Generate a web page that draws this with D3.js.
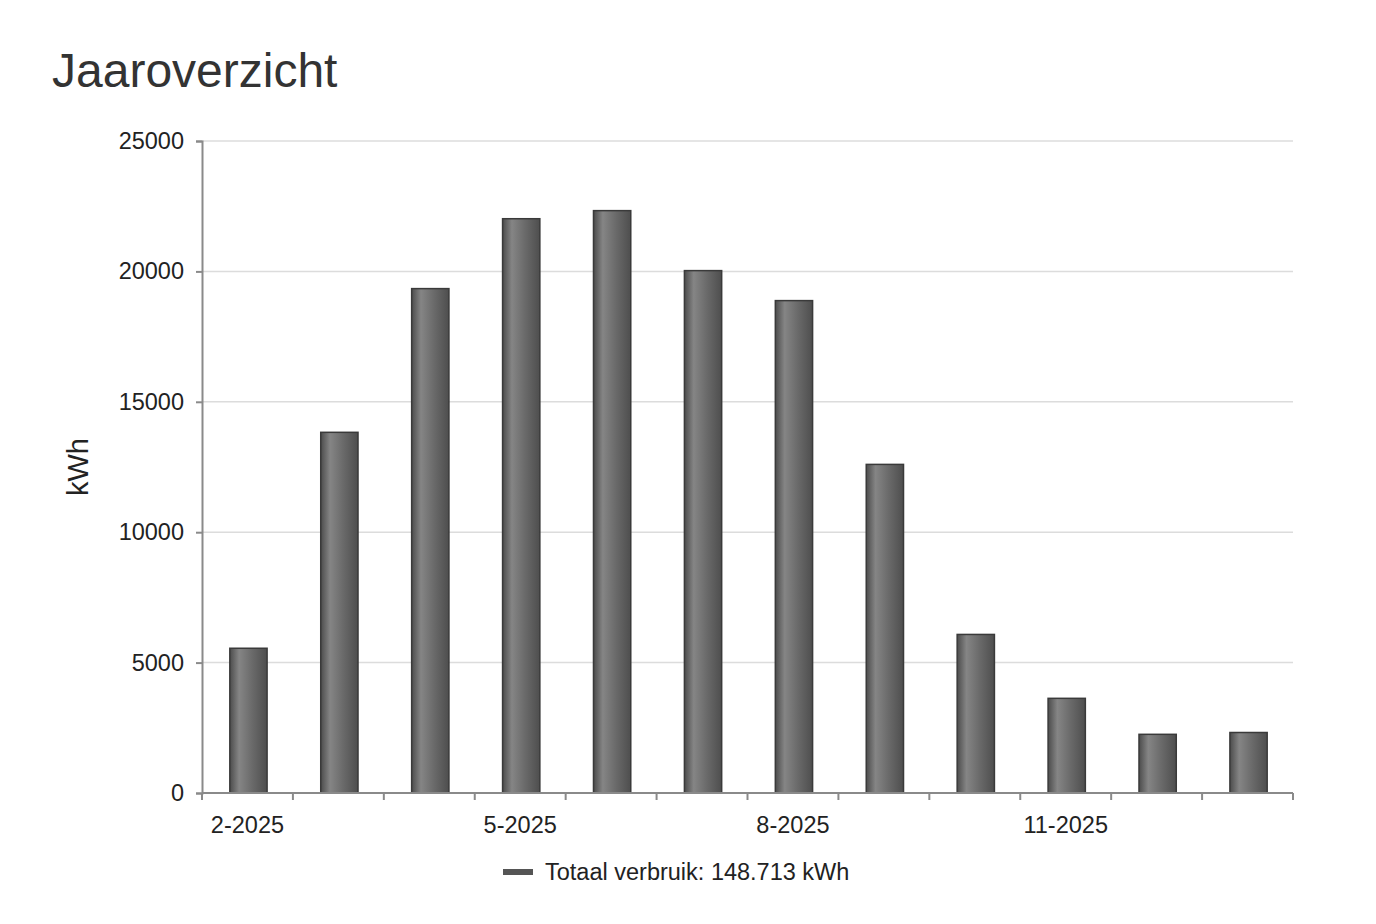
<!DOCTYPE html>
<html>
<head>
<meta charset="utf-8">
<script src="https://cdn.jsdelivr.net/npm/d3@7"></script>
<style>
  html, body { margin: 0; padding: 0; background: #fff; }
  body { font-family: "Liberation Sans", Arial, Helvetica, sans-serif; }
  svg text { fill: #222; }
</style>
</head>
<body>
<div id="chart"></div>
<script>
// ── data ────────────────────────────────────────────────
const months = ['2-2025', '3-2025', '4-2025', '5-2025', '6-2025', '7-2025',
                '8-2025', '9-2025', '10-2025', '11-2025', '12-2025', '1-2026'];
const usage  = [5550, 13830, 19340, 22020, 22330, 20030,
                18880, 12600, 6080, 3630, 2250, 2320];
const labelled = ['2-2025', '5-2025', '8-2025', '11-2025'];
const yTicks = [0, 5000, 10000, 15000, 20000, 25000];
const title = 'Jaaroverzicht';
const yTitle = 'kWh';
const legendText = 'Totaal verbruik: 148.713 kWh';

// ── layout ──────────────────────────────────────────────
const W = 1376, H = 924;
const m = { top: 141, right: 83, bottom: 131, left: 202 };
const iw = W - m.left - m.right, ih = H - m.top - m.bottom;

const svg = d3.select('#chart').append('svg')
  .attr('width', W).attr('height', H);

// gradient for bars (cylinder look)
const defs = svg.append('defs');
const lg = defs.append('linearGradient').attr('id', 'barGrad')
  .attr('x1', '0%').attr('x2', '100%').attr('y1', '0%').attr('y2', '0%');
lg.append('stop').attr('offset', '0%').attr('stop-color', '#4c4c4c');
lg.append('stop').attr('offset', '25%').attr('stop-color', '#858585');
lg.append('stop').attr('offset', '60%').attr('stop-color', '#6a6a6a');
lg.append('stop').attr('offset', '100%').attr('stop-color', '#4e4e4e');

svg.append('text')
  .attr('x', 52).attr('y', 87)
  .attr('font-size', 48)
  .style('fill', '#333')
  .text(title);

const g = svg.append('g').attr('transform', `translate(${m.left},${m.top})`);

const x = d3.scaleBand().domain(months).range([0, iw]).paddingInner(0.59).paddingOuter(0.295);
const y = d3.scaleLinear().domain([0, 25000]).range([ih, 0]);

// gridlines
g.append('g').selectAll('line')
  .data(yTicks.filter(d => d > 0))
  .enter().append('line')
  .attr('x1', 0).attr('x2', iw)
  .attr('y1', d => y(d)).attr('y2', d => y(d))
  .attr('stroke', '#dcdcdc').attr('stroke-width', 1.5);

// y axis
const yAxis = g.append('g')
  .call(d3.axisLeft(y).tickValues(yTicks).tickSize(6).tickPadding(12).tickFormat(d3.format('d')));
yAxis.select('.domain').attr('stroke', '#8a8a8a').attr('stroke-width', 2);
yAxis.selectAll('.tick line').attr('stroke', '#8a8a8a').attr('stroke-width', 2);
yAxis.selectAll('.tick text')
  .attr('font-size', 23.5).attr('font-family', '"Liberation Sans", Arial, sans-serif')
  .style('fill', '#222');

// bars
g.append('g').selectAll('rect')
  .data(months.map((mo, i) => ({ mo, v: usage[i] })))
  .enter().append('rect')
  .attr('x', d => x(d.mo) + 1)
  .attr('width', x.bandwidth())
  .attr('y', d => y(d.v))
  .attr('height', d => ih - y(d.v))
  .attr('fill', 'url(#barGrad)')
  .attr('stroke', '#3a3a3a').attr('stroke-width', 1.5);

// x axis: boundary ticks
const step = x.step();
const xa = g.append('g').attr('transform', `translate(0,${ih})`);
xa.append('line').attr('x1', 0).attr('x2', iw).attr('y1', 0).attr('y2', 0)
  .attr('stroke', '#8a8a8a').attr('stroke-width', 2);
xa.selectAll('line.tk')
  .data(d3.range(months.length + 1))
  .enter().append('line').attr('class', 'tk')
  .attr('x1', i => i * step).attr('x2', i => i * step)
  .attr('y1', 0).attr('y2', 7)
  .attr('stroke', '#8a8a8a').attr('stroke-width', 2);
xa.selectAll('text')
  .data(labelled)
  .enter().append('text')
  .attr('x', d => x(d) + x.bandwidth() / 2)
  .attr('y', 40)
  .attr('text-anchor', 'middle')
  .attr('font-size', 23.5)
  .text(d => d);

// y title
svg.append('text')
  .attr('transform', `translate(88,${m.top + ih / 2}) rotate(-90)`)
  .attr('text-anchor', 'middle')
  .attr('font-size', 29)
  .text(yTitle);

// legend
const leg = svg.append('g').attr('transform', 'translate(503,872)');
leg.append('rect').attr('x', 0).attr('y', -3).attr('width', 30).attr('height', 6).attr('fill', '#555');
leg.append('text').attr('x', 42).attr('y', 8).attr('font-size', 23.5).text(legendText);
</script>
</body>
</html>
